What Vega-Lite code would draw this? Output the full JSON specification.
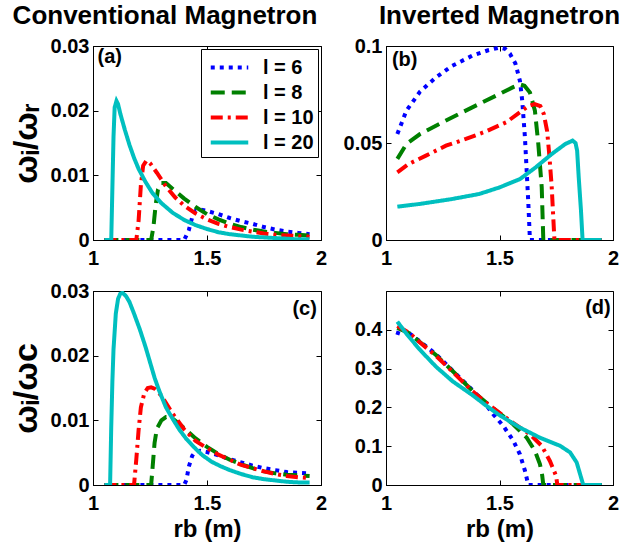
{
"$schema":"https://vega.github.io/schema/vega-lite/v6.json",
"padding":{"left":8,"top":2,"right":0,"bottom":0},
"background":"white",
"datasets":{"lines":[
{"p":"a","l":"l = 6","x":1.05,"y":0},{"p":"a","l":"l = 6","x":1.40,"y":0},{"p":"a","l":"l = 6","x":1.42,"y":0.0015},{"p":"a","l":"l = 6","x":1.435,"y":0.0035},{"p":"a","l":"l = 6","x":1.45,"y":0.0045},{"p":"a","l":"l = 6","x":1.47,"y":0.0047},{"p":"a","l":"l = 6","x":1.50,"y":0.0045},{"p":"a","l":"l = 6","x":1.55,"y":0.0040},{"p":"a","l":"l = 6","x":1.60,"y":0.0034},{"p":"a","l":"l = 6","x":1.65,"y":0.0029},{"p":"a","l":"l = 6","x":1.70,"y":0.0025},{"p":"a","l":"l = 6","x":1.75,"y":0.0020},{"p":"a","l":"l = 6","x":1.80,"y":0.0016},{"p":"a","l":"l = 6","x":1.85,"y":0.0013},{"p":"a","l":"l = 6","x":1.90,"y":0.0011},{"p":"a","l":"l = 6","x":1.95,"y":0.0009},
{"p":"a","l":"l = 8","x":1.05,"y":0},{"p":"a","l":"l = 8","x":1.255,"y":0},{"p":"a","l":"l = 8","x":1.265,"y":0.002},{"p":"a","l":"l = 8","x":1.275,"y":0.0055},{"p":"a","l":"l = 8","x":1.285,"y":0.0078},{"p":"a","l":"l = 8","x":1.30,"y":0.0088},{"p":"a","l":"l = 8","x":1.32,"y":0.0088},{"p":"a","l":"l = 8","x":1.35,"y":0.0079},{"p":"a","l":"l = 8","x":1.40,"y":0.0064},{"p":"a","l":"l = 8","x":1.45,"y":0.0051},{"p":"a","l":"l = 8","x":1.50,"y":0.0040},{"p":"a","l":"l = 8","x":1.55,"y":0.0032},{"p":"a","l":"l = 8","x":1.60,"y":0.0025},{"p":"a","l":"l = 8","x":1.65,"y":0.0020},{"p":"a","l":"l = 8","x":1.70,"y":0.0016},{"p":"a","l":"l = 8","x":1.75,"y":0.0013},{"p":"a","l":"l = 8","x":1.80,"y":0.0011},{"p":"a","l":"l = 8","x":1.85,"y":0.0009},{"p":"a","l":"l = 8","x":1.90,"y":0.0008},{"p":"a","l":"l = 8","x":1.95,"y":0.0007},
{"p":"a","l":"l = 10","x":1.05,"y":0},{"p":"a","l":"l = 10","x":1.19,"y":0},{"p":"a","l":"l = 10","x":1.20,"y":0.003},{"p":"a","l":"l = 10","x":1.21,"y":0.0085},{"p":"a","l":"l = 10","x":1.22,"y":0.0115},{"p":"a","l":"l = 10","x":1.235,"y":0.0123},{"p":"a","l":"l = 10","x":1.25,"y":0.0119},{"p":"a","l":"l = 10","x":1.28,"y":0.0104},{"p":"a","l":"l = 10","x":1.32,"y":0.0083},{"p":"a","l":"l = 10","x":1.36,"y":0.0066},{"p":"a","l":"l = 10","x":1.40,"y":0.0053},{"p":"a","l":"l = 10","x":1.45,"y":0.0041},{"p":"a","l":"l = 10","x":1.50,"y":0.0032},{"p":"a","l":"l = 10","x":1.55,"y":0.0025},{"p":"a","l":"l = 10","x":1.60,"y":0.0020},{"p":"a","l":"l = 10","x":1.65,"y":0.0016},{"p":"a","l":"l = 10","x":1.70,"y":0.0013},{"p":"a","l":"l = 10","x":1.75,"y":0.0010},{"p":"a","l":"l = 10","x":1.80,"y":0.0008},{"p":"a","l":"l = 10","x":1.85,"y":0.0007},{"p":"a","l":"l = 10","x":1.90,"y":0.0006},{"p":"a","l":"l = 10","x":1.95,"y":0.0005},
{"p":"a","l":"l = 20","x":1.05,"y":0},{"p":"a","l":"l = 20","x":1.08,"y":0},{"p":"a","l":"l = 20","x":1.085,"y":0.008},{"p":"a","l":"l = 20","x":1.09,"y":0.016},{"p":"a","l":"l = 20","x":1.095,"y":0.0205},{"p":"a","l":"l = 20","x":1.103,"y":0.0215},{"p":"a","l":"l = 20","x":1.11,"y":0.021},{"p":"a","l":"l = 20","x":1.12,"y":0.0195},{"p":"a","l":"l = 20","x":1.14,"y":0.0170},{"p":"a","l":"l = 20","x":1.16,"y":0.0147},{"p":"a","l":"l = 20","x":1.18,"y":0.0127},{"p":"a","l":"l = 20","x":1.20,"y":0.0110},{"p":"a","l":"l = 20","x":1.23,"y":0.0090},{"p":"a","l":"l = 20","x":1.26,"y":0.0073},{"p":"a","l":"l = 20","x":1.30,"y":0.0057},{"p":"a","l":"l = 20","x":1.35,"y":0.0042},{"p":"a","l":"l = 20","x":1.40,"y":0.0031},{"p":"a","l":"l = 20","x":1.45,"y":0.0023},{"p":"a","l":"l = 20","x":1.50,"y":0.0017},{"p":"a","l":"l = 20","x":1.55,"y":0.0012},{"p":"a","l":"l = 20","x":1.60,"y":0.0009},{"p":"a","l":"l = 20","x":1.65,"y":0.0007},{"p":"a","l":"l = 20","x":1.70,"y":0.0005},{"p":"a","l":"l = 20","x":1.80,"y":0.0003},{"p":"a","l":"l = 20","x":1.90,"y":0.0001},{"p":"a","l":"l = 20","x":1.95,"y":0.0001},
{"p":"b","l":"l = 6","x":1.05,"y":0.0546},{"p":"b","l":"l = 6","x":1.09,"y":0.0667},{"p":"b","l":"l = 6","x":1.15,"y":0.0765},{"p":"b","l":"l = 6","x":1.22,"y":0.0838},{"p":"b","l":"l = 6","x":1.29,"y":0.0897},{"p":"b","l":"l = 6","x":1.38,"y":0.0950},{"p":"b","l":"l = 6","x":1.45,"y":0.0978},{"p":"b","l":"l = 6","x":1.50,"y":0.0992},{"p":"b","l":"l = 6","x":1.525,"y":0.0985},{"p":"b","l":"l = 6","x":1.546,"y":0.096},{"p":"b","l":"l = 6","x":1.57,"y":0.091},{"p":"b","l":"l = 6","x":1.59,"y":0.082},{"p":"b","l":"l = 6","x":1.60,"y":0.072},{"p":"b","l":"l = 6","x":1.612,"y":0.053},{"p":"b","l":"l = 6","x":1.62,"y":0.035},{"p":"b","l":"l = 6","x":1.627,"y":0.019},{"p":"b","l":"l = 6","x":1.634,"y":0},{"p":"b","l":"l = 6","x":1.95,"y":0},
{"p":"b","l":"l = 8","x":1.05,"y":0.0418},{"p":"b","l":"l = 8","x":1.09,"y":0.0495},{"p":"b","l":"l = 8","x":1.15,"y":0.0546},{"p":"b","l":"l = 8","x":1.235,"y":0.0598},{"p":"b","l":"l = 8","x":1.32,"y":0.0649},{"p":"b","l":"l = 8","x":1.41,"y":0.0701},{"p":"b","l":"l = 8","x":1.50,"y":0.0753},{"p":"b","l":"l = 8","x":1.56,"y":0.0788},{"p":"b","l":"l = 8","x":1.59,"y":0.0802},{"p":"b","l":"l = 8","x":1.61,"y":0.0795},{"p":"b","l":"l = 8","x":1.634,"y":0.0761},{"p":"b","l":"l = 8","x":1.656,"y":0.0667},{"p":"b","l":"l = 8","x":1.671,"y":0.0495},{"p":"b","l":"l = 8","x":1.686,"y":0.0272},{"p":"b","l":"l = 8","x":1.693,"y":0},{"p":"b","l":"l = 8","x":1.95,"y":0},
{"p":"b","l":"l = 10","x":1.05,"y":0.0349},{"p":"b","l":"l = 10","x":1.10,"y":0.0392},{"p":"b","l":"l = 10","x":1.176,"y":0.0435},{"p":"b","l":"l = 10","x":1.264,"y":0.0486},{"p":"b","l":"l = 10","x":1.352,"y":0.0521},{"p":"b","l":"l = 10","x":1.441,"y":0.0560},{"p":"b","l":"l = 10","x":1.53,"y":0.0607},{"p":"b","l":"l = 10","x":1.60,"y":0.0667},{"p":"b","l":"l = 10","x":1.63,"y":0.0692},{"p":"b","l":"l = 10","x":1.655,"y":0.0701},{"p":"b","l":"l = 10","x":1.68,"y":0.0690},{"p":"b","l":"l = 10","x":1.695,"y":0.0650},{"p":"b","l":"l = 10","x":1.71,"y":0.0560},{"p":"b","l":"l = 10","x":1.72,"y":0.0430},{"p":"b","l":"l = 10","x":1.73,"y":0.0273},{"p":"b","l":"l = 10","x":1.742,"y":0},{"p":"b","l":"l = 10","x":1.95,"y":0},
{"p":"b","l":"l = 20","x":1.05,"y":0.0172},{"p":"b","l":"l = 20","x":1.15,"y":0.0186},{"p":"b","l":"l = 20","x":1.29,"y":0.0211},{"p":"b","l":"l = 20","x":1.41,"y":0.0237},{"p":"b","l":"l = 20","x":1.50,"y":0.0271},{"p":"b","l":"l = 20","x":1.59,"y":0.0314},{"p":"b","l":"l = 20","x":1.66,"y":0.0375},{"p":"b","l":"l = 20","x":1.73,"y":0.0443},{"p":"b","l":"l = 20","x":1.79,"y":0.0495},{"p":"b","l":"l = 20","x":1.822,"y":0.0512},{"p":"b","l":"l = 20","x":1.835,"y":0.0500},{"p":"b","l":"l = 20","x":1.842,"y":0.046},{"p":"b","l":"l = 20","x":1.849,"y":0.0323},{"p":"b","l":"l = 20","x":1.859,"y":0.0151},{"p":"b","l":"l = 20","x":1.866,"y":0},{"p":"b","l":"l = 20","x":1.95,"y":0},
{"p":"c","l":"l = 6","x":1.05,"y":0},{"p":"c","l":"l = 6","x":1.40,"y":0},{"p":"c","l":"l = 6","x":1.41,"y":0.0008},{"p":"c","l":"l = 6","x":1.42,"y":0.0028},{"p":"c","l":"l = 6","x":1.435,"y":0.0045},{"p":"c","l":"l = 6","x":1.45,"y":0.0052},{"p":"c","l":"l = 6","x":1.47,"y":0.0053},{"p":"c","l":"l = 6","x":1.50,"y":0.0051},{"p":"c","l":"l = 6","x":1.55,"y":0.0046},{"p":"c","l":"l = 6","x":1.60,"y":0.0040},{"p":"c","l":"l = 6","x":1.65,"y":0.0035},{"p":"c","l":"l = 6","x":1.70,"y":0.0030},{"p":"c","l":"l = 6","x":1.75,"y":0.0026},{"p":"c","l":"l = 6","x":1.80,"y":0.0023},{"p":"c","l":"l = 6","x":1.85,"y":0.0020},{"p":"c","l":"l = 6","x":1.90,"y":0.0019},{"p":"c","l":"l = 6","x":1.95,"y":0.0018},
{"p":"c","l":"l = 8","x":1.05,"y":0},{"p":"c","l":"l = 8","x":1.255,"y":0},{"p":"c","l":"l = 8","x":1.262,"y":0.003},{"p":"c","l":"l = 8","x":1.27,"y":0.0065},{"p":"c","l":"l = 8","x":1.28,"y":0.0087},{"p":"c","l":"l = 8","x":1.30,"y":0.0100},{"p":"c","l":"l = 8","x":1.32,"y":0.0105},{"p":"c","l":"l = 8","x":1.34,"y":0.0105},{"p":"c","l":"l = 8","x":1.37,"y":0.0097},{"p":"c","l":"l = 8","x":1.40,"y":0.0088},{"p":"c","l":"l = 8","x":1.45,"y":0.0072},{"p":"c","l":"l = 8","x":1.50,"y":0.0059},{"p":"c","l":"l = 8","x":1.55,"y":0.0048},{"p":"c","l":"l = 8","x":1.60,"y":0.0039},{"p":"c","l":"l = 8","x":1.65,"y":0.0032},{"p":"c","l":"l = 8","x":1.70,"y":0.0026},{"p":"c","l":"l = 8","x":1.75,"y":0.0021},{"p":"c","l":"l = 8","x":1.80,"y":0.0018},{"p":"c","l":"l = 8","x":1.85,"y":0.0016},{"p":"c","l":"l = 8","x":1.90,"y":0.0015},{"p":"c","l":"l = 8","x":1.95,"y":0.0014},
{"p":"c","l":"l = 10","x":1.05,"y":0},{"p":"c","l":"l = 10","x":1.18,"y":0},{"p":"c","l":"l = 10","x":1.19,"y":0.004},{"p":"c","l":"l = 10","x":1.20,"y":0.0085},{"p":"c","l":"l = 10","x":1.21,"y":0.0120},{"p":"c","l":"l = 10","x":1.225,"y":0.0142},{"p":"c","l":"l = 10","x":1.24,"y":0.0150},{"p":"c","l":"l = 10","x":1.255,"y":0.0151},{"p":"c","l":"l = 10","x":1.27,"y":0.0149},{"p":"c","l":"l = 10","x":1.30,"y":0.0138},{"p":"c","l":"l = 10","x":1.35,"y":0.0110},{"p":"c","l":"l = 10","x":1.40,"y":0.0086},{"p":"c","l":"l = 10","x":1.45,"y":0.0068},{"p":"c","l":"l = 10","x":1.50,"y":0.0057},{"p":"c","l":"l = 10","x":1.55,"y":0.0047},{"p":"c","l":"l = 10","x":1.60,"y":0.0039},{"p":"c","l":"l = 10","x":1.65,"y":0.0031},{"p":"c","l":"l = 10","x":1.70,"y":0.0026},{"p":"c","l":"l = 10","x":1.75,"y":0.0021},{"p":"c","l":"l = 10","x":1.80,"y":0.0017},{"p":"c","l":"l = 10","x":1.85,"y":0.0014},{"p":"c","l":"l = 10","x":1.90,"y":0.0012},{"p":"c","l":"l = 10","x":1.95,"y":0.0011},
{"p":"c","l":"l = 20","x":1.05,"y":0},{"p":"c","l":"l = 20","x":1.075,"y":0},{"p":"c","l":"l = 20","x":1.08,"y":0.009},{"p":"c","l":"l = 20","x":1.085,"y":0.016},{"p":"c","l":"l = 20","x":1.09,"y":0.021},{"p":"c","l":"l = 20","x":1.10,"y":0.0265},{"p":"c","l":"l = 20","x":1.11,"y":0.0288},{"p":"c","l":"l = 20","x":1.12,"y":0.0296},{"p":"c","l":"l = 20","x":1.13,"y":0.0297},{"p":"c","l":"l = 20","x":1.145,"y":0.0292},{"p":"c","l":"l = 20","x":1.16,"y":0.0283},{"p":"c","l":"l = 20","x":1.18,"y":0.0265},{"p":"c","l":"l = 20","x":1.205,"y":0.0241},{"p":"c","l":"l = 20","x":1.23,"y":0.0214},{"p":"c","l":"l = 20","x":1.25,"y":0.0190},{"p":"c","l":"l = 20","x":1.27,"y":0.0166},{"p":"c","l":"l = 20","x":1.29,"y":0.0146},{"p":"c","l":"l = 20","x":1.32,"y":0.0120},{"p":"c","l":"l = 20","x":1.35,"y":0.0102},{"p":"c","l":"l = 20","x":1.38,"y":0.0085},{"p":"c","l":"l = 20","x":1.41,"y":0.0071},{"p":"c","l":"l = 20","x":1.45,"y":0.0056},{"p":"c","l":"l = 20","x":1.48,"y":0.0046},{"p":"c","l":"l = 20","x":1.52,"y":0.0036},{"p":"c","l":"l = 20","x":1.56,"y":0.0029},{"p":"c","l":"l = 20","x":1.60,"y":0.0023},{"p":"c","l":"l = 20","x":1.65,"y":0.0017},{"p":"c","l":"l = 20","x":1.70,"y":0.0012},{"p":"c","l":"l = 20","x":1.75,"y":0.0009},{"p":"c","l":"l = 20","x":1.80,"y":0.0007},{"p":"c","l":"l = 20","x":1.85,"y":0.0005},{"p":"c","l":"l = 20","x":1.90,"y":0.0004},{"p":"c","l":"l = 20","x":1.95,"y":0.0004},
{"p":"d","l":"l = 6","x":1.05,"y":0.387},{"p":"d","l":"l = 6","x":1.06,"y":0.405},{"p":"d","l":"l = 6","x":1.10,"y":0.392},{"p":"d","l":"l = 6","x":1.15,"y":0.370},{"p":"d","l":"l = 6","x":1.22,"y":0.337},{"p":"d","l":"l = 6","x":1.30,"y":0.291},{"p":"d","l":"l = 6","x":1.38,"y":0.245},{"p":"d","l":"l = 6","x":1.43,"y":0.215},{"p":"d","l":"l = 6","x":1.473,"y":0.182},{"p":"d","l":"l = 6","x":1.517,"y":0.152},{"p":"d","l":"l = 6","x":1.561,"y":0.114},{"p":"d","l":"l = 6","x":1.59,"y":0.079},{"p":"d","l":"l = 6","x":1.612,"y":0.037},{"p":"d","l":"l = 6","x":1.627,"y":0},{"p":"d","l":"l = 6","x":1.95,"y":0},
{"p":"d","l":"l = 8","x":1.05,"y":0.405},{"p":"d","l":"l = 8","x":1.10,"y":0.392},{"p":"d","l":"l = 8","x":1.15,"y":0.368},{"p":"d","l":"l = 8","x":1.22,"y":0.335},{"p":"d","l":"l = 8","x":1.30,"y":0.290},{"p":"d","l":"l = 8","x":1.38,"y":0.243},{"p":"d","l":"l = 8","x":1.45,"y":0.208},{"p":"d","l":"l = 8","x":1.50,"y":0.185},{"p":"d","l":"l = 8","x":1.561,"y":0.156},{"p":"d","l":"l = 8","x":1.62,"y":0.122},{"p":"d","l":"l = 8","x":1.656,"y":0.088},{"p":"d","l":"l = 8","x":1.678,"y":0.054},{"p":"d","l":"l = 8","x":1.688,"y":0.025},{"p":"d","l":"l = 8","x":1.693,"y":0},{"p":"d","l":"l = 8","x":1.95,"y":0},
{"p":"d","l":"l = 10","x":1.05,"y":0.41},{"p":"d","l":"l = 10","x":1.10,"y":0.393},{"p":"d","l":"l = 10","x":1.15,"y":0.367},{"p":"d","l":"l = 10","x":1.22,"y":0.333},{"p":"d","l":"l = 10","x":1.30,"y":0.288},{"p":"d","l":"l = 10","x":1.38,"y":0.242},{"p":"d","l":"l = 10","x":1.45,"y":0.208},{"p":"d","l":"l = 10","x":1.50,"y":0.186},{"p":"d","l":"l = 10","x":1.56,"y":0.160},{"p":"d","l":"l = 10","x":1.634,"y":0.131},{"p":"d","l":"l = 10","x":1.686,"y":0.101},{"p":"d","l":"l = 10","x":1.722,"y":0.062},{"p":"d","l":"l = 10","x":1.749,"y":0.024},{"p":"d","l":"l = 10","x":1.755,"y":0},{"p":"d","l":"l = 10","x":1.95,"y":0},
{"p":"d","l":"l = 20","x":1.05,"y":0.421},{"p":"d","l":"l = 20","x":1.09,"y":0.390},{"p":"d","l":"l = 20","x":1.147,"y":0.350},{"p":"d","l":"l = 20","x":1.22,"y":0.305},{"p":"d","l":"l = 20","x":1.294,"y":0.267},{"p":"d","l":"l = 20","x":1.38,"y":0.232},{"p":"d","l":"l = 20","x":1.44,"y":0.205},{"p":"d","l":"l = 20","x":1.50,"y":0.180},{"p":"d","l":"l = 20","x":1.59,"y":0.148},{"p":"d","l":"l = 20","x":1.678,"y":0.122},{"p":"d","l":"l = 20","x":1.767,"y":0.101},{"p":"d","l":"l = 20","x":1.811,"y":0.084},{"p":"d","l":"l = 20","x":1.84,"y":0.058},{"p":"d","l":"l = 20","x":1.855,"y":0.028},{"p":"d","l":"l = 20","x":1.869,"y":0},{"p":"d","l":"l = 20","x":1.95,"y":0}
]},
"columns":2,
"spacing":{"row":51,"column":65},
"bounds":"flush",
"resolve":{"scale":{"color":"independent","strokeDash":"independent"},"legend":{"color":"independent","strokeDash":"independent"}},
"concat":[
{"width":228,"height":194,
 "title":{"text":"Conventional Magnetron","anchor":"middle","frame":"group","dx":-42,"baseline":"alphabetic","offset":-14},
 "layer":[
  {"data":{"name":"lines"},"transform":[{"filter":"datum.p==='a'"}],
   "mark":{"type":"line","strokeWidth":4,"clip":true},
   "encoding":{
    "x":{"field":"x","type":"quantitative","scale":{"domain":[1,2],"nice":false,"zero":false},"axis":{"values":[1,1.5,2],"format":"~g","title":null}},
    "y":{"field":"y","type":"quantitative","scale":{"domain":[0,0.03],"nice":false},"axis":{"values":[0,0.01,0.02,0.03],"format":".2~f","title":"ωᵢ/ωᵣ"}},
    "color":{"field":"l","type":"nominal","sort":null,"scale":{"domain":["l = 6","l = 8","l = 10","l = 20"],"range":["#0000ff","#008000","#ff0000","#00bfbf"]},"legend":{"title":null,"orient":"top-right","offset":3}},
    "strokeDash":{"field":"l","type":"nominal","sort":null,"scale":{"domain":["l = 6","l = 8","l = 10","l = 20"],"range":[[4,5],[14,7],[12,5,3,5],[1,0]]},"legend":{"title":null,"orient":"top-right","offset":3}}
   }},
  {"data":{"values":[{"t":"(a)","x":1.02,"y":0.0283}]},
   "mark":{"type":"text","align":"left","baseline":"middle","fontSize":20,"fontWeight":"bold","font":"Liberation Sans"},
   "encoding":{
    "x":{"field":"x","type":"quantitative","scale":{"domain":[1,2],"nice":false,"zero":false},"axis":{"orient":"top","values":[1,1.5,2],"labels":false,"domain":false,"title":null}},
    "y":{"field":"y","type":"quantitative","scale":{"domain":[0,0.03],"nice":false},"axis":{"orient":"right","values":[0,0.01,0.02,0.03],"labels":false,"domain":false,"title":null}},
    "text":{"field":"t"}}}
 ],
 "resolve":{"axis":{"x":"independent","y":"independent"}}
},
{"width":227,"height":194,
 "title":{"text":"Inverted Magnetron","anchor":"middle","frame":"group","baseline":"alphabetic","offset":-14},
 "layer":[
  {"data":{"name":"lines"},"transform":[{"filter":"datum.p==='b'"}],
   "mark":{"type":"line","strokeWidth":4,"clip":true},
   "encoding":{
    "x":{"field":"x","type":"quantitative","scale":{"domain":[1,2],"nice":false,"zero":false},"axis":{"values":[1,1.5,2],"format":"~g","title":null}},
    "y":{"field":"y","type":"quantitative","scale":{"domain":[0,0.1],"nice":false},"axis":{"values":[0,0.05,0.1],"format":".2~f","title":null}},
    "color":{"field":"l","type":"nominal","sort":null,"scale":{"domain":["l = 6","l = 8","l = 10","l = 20"],"range":["#0000ff","#008000","#ff0000","#00bfbf"]},"legend":null},
    "strokeDash":{"field":"l","type":"nominal","sort":null,"scale":{"domain":["l = 6","l = 8","l = 10","l = 20"],"range":[[4,5],[14,7],[12,5,3,5],[1,0]]},"legend":null}
   }},
  {"data":{"values":[{"t":"(b)","x":1.026,"y":0.093}]},
   "mark":{"type":"text","align":"left","baseline":"middle","fontSize":20,"fontWeight":"bold","font":"Liberation Sans"},
   "encoding":{
    "x":{"field":"x","type":"quantitative","scale":{"domain":[1,2],"nice":false,"zero":false},"axis":{"orient":"top","values":[1,1.5,2],"labels":false,"domain":false,"title":null}},
    "y":{"field":"y","type":"quantitative","scale":{"domain":[0,0.1],"nice":false},"axis":{"orient":"right","values":[0,0.05,0.1],"labels":false,"domain":false,"title":null}},
    "text":{"field":"t"}}}
 ],
 "resolve":{"axis":{"x":"independent","y":"independent"}}
},
{"width":228,"height":194,
 "layer":[
  {"data":{"name":"lines"},"transform":[{"filter":"datum.p==='c'"}],
   "mark":{"type":"line","strokeWidth":4,"clip":true},
   "encoding":{
    "x":{"field":"x","type":"quantitative","scale":{"domain":[1,2],"nice":false,"zero":false},"axis":{"values":[1,1.5,2],"format":"~g","title":"rb (m)"}},
    "y":{"field":"y","type":"quantitative","scale":{"domain":[0,0.03],"nice":false},"axis":{"values":[0,0.01,0.02,0.03],"format":".2~f","title":"ωᵢ/ωc"}},
    "color":{"field":"l","type":"nominal","sort":null,"scale":{"domain":["l = 6","l = 8","l = 10","l = 20"],"range":["#0000ff","#008000","#ff0000","#00bfbf"]},"legend":null},
    "strokeDash":{"field":"l","type":"nominal","sort":null,"scale":{"domain":["l = 6","l = 8","l = 10","l = 20"],"range":[[4,5],[14,7],[12,5,3,5],[1,0]]},"legend":null}
   }},
  {"data":{"values":[{"t":"(c)","x":1.982,"y":0.0272}]},
   "mark":{"type":"text","align":"right","baseline":"middle","fontSize":20,"fontWeight":"bold","font":"Liberation Sans"},
   "encoding":{
    "x":{"field":"x","type":"quantitative","scale":{"domain":[1,2],"nice":false,"zero":false},"axis":{"orient":"top","values":[1,1.5,2],"labels":false,"domain":false,"title":null}},
    "y":{"field":"y","type":"quantitative","scale":{"domain":[0,0.03],"nice":false},"axis":{"orient":"right","values":[0,0.01,0.02,0.03],"labels":false,"domain":false,"title":null}},
    "text":{"field":"t"}}}
 ],
 "resolve":{"axis":{"x":"independent","y":"independent"}}
},
{"width":227,"height":194,
 "layer":[
  {"data":{"name":"lines"},"transform":[{"filter":"datum.p==='d'"}],
   "mark":{"type":"line","strokeWidth":4,"clip":true},
   "encoding":{
    "x":{"field":"x","type":"quantitative","scale":{"domain":[1,2],"nice":false,"zero":false},"axis":{"values":[1,1.5,2],"format":"~g","title":"rb (m)"}},
    "y":{"field":"y","type":"quantitative","scale":{"domain":[0,0.5],"nice":false},"axis":{"values":[0,0.1,0.2,0.3,0.4],"format":".1~f","title":null}},
    "color":{"field":"l","type":"nominal","sort":null,"scale":{"domain":["l = 6","l = 8","l = 10","l = 20"],"range":["#0000ff","#008000","#ff0000","#00bfbf"]},"legend":null},
    "strokeDash":{"field":"l","type":"nominal","sort":null,"scale":{"domain":["l = 6","l = 8","l = 10","l = 20"],"range":[[4,5],[14,7],[12,5,3,5],[1,0]]},"legend":null}
   }},
  {"data":{"values":[{"t":"(d)","x":1.99,"y":0.456}]},
   "mark":{"type":"text","align":"right","baseline":"middle","fontSize":20,"fontWeight":"bold","font":"Liberation Sans"},
   "encoding":{
    "x":{"field":"x","type":"quantitative","scale":{"domain":[1,2],"nice":false,"zero":false},"axis":{"orient":"top","values":[1,1.5,2],"labels":false,"domain":false,"title":null}},
    "y":{"field":"y","type":"quantitative","scale":{"domain":[0,0.5],"nice":false},"axis":{"orient":"right","values":[0,0.1,0.2,0.3,0.4],"labels":false,"domain":false,"title":null}},
    "text":{"field":"t"}}}
 ],
 "resolve":{"axis":{"x":"independent","y":"independent"}}
}
],
"config":{
 "view":{"stroke":"black","strokeWidth":1},
 "axis":{"grid":false,"minExtent":0,"domainColor":"black","tickColor":"black","tickSize":-5,"labelFont":"Liberation Sans","labelFontSize":20,"labelFontWeight":"bold","labelColor":"black","labelOverlap":false,"labelFlush":false,"labelBound":false,"titleFont":"Liberation Sans","titleFontSize":24,"titleFontWeight":"bold","titleColor":"black"},
 "axisX":{"labelPadding":13,"titlePadding":4},
 "axisY":{"labelPadding":9,"titlePadding":7,"titleFontSize":34},
 "title":{"font":"Liberation Sans","fontSize":26,"fontWeight":"bold","color":"black"},
 "legend":{"symbolType":"M-1.5,0H1.5","symbolSize":625,"symbolOffset":10,"symbolStrokeWidth":4,"labelFont":"Liberation Sans","labelFontSize":20,"labelFontWeight":"bold","labelColor":"black","strokeColor":"black","fillColor":"white","padding":4,"rowPadding":0,"labelOffset":19}
}
}
